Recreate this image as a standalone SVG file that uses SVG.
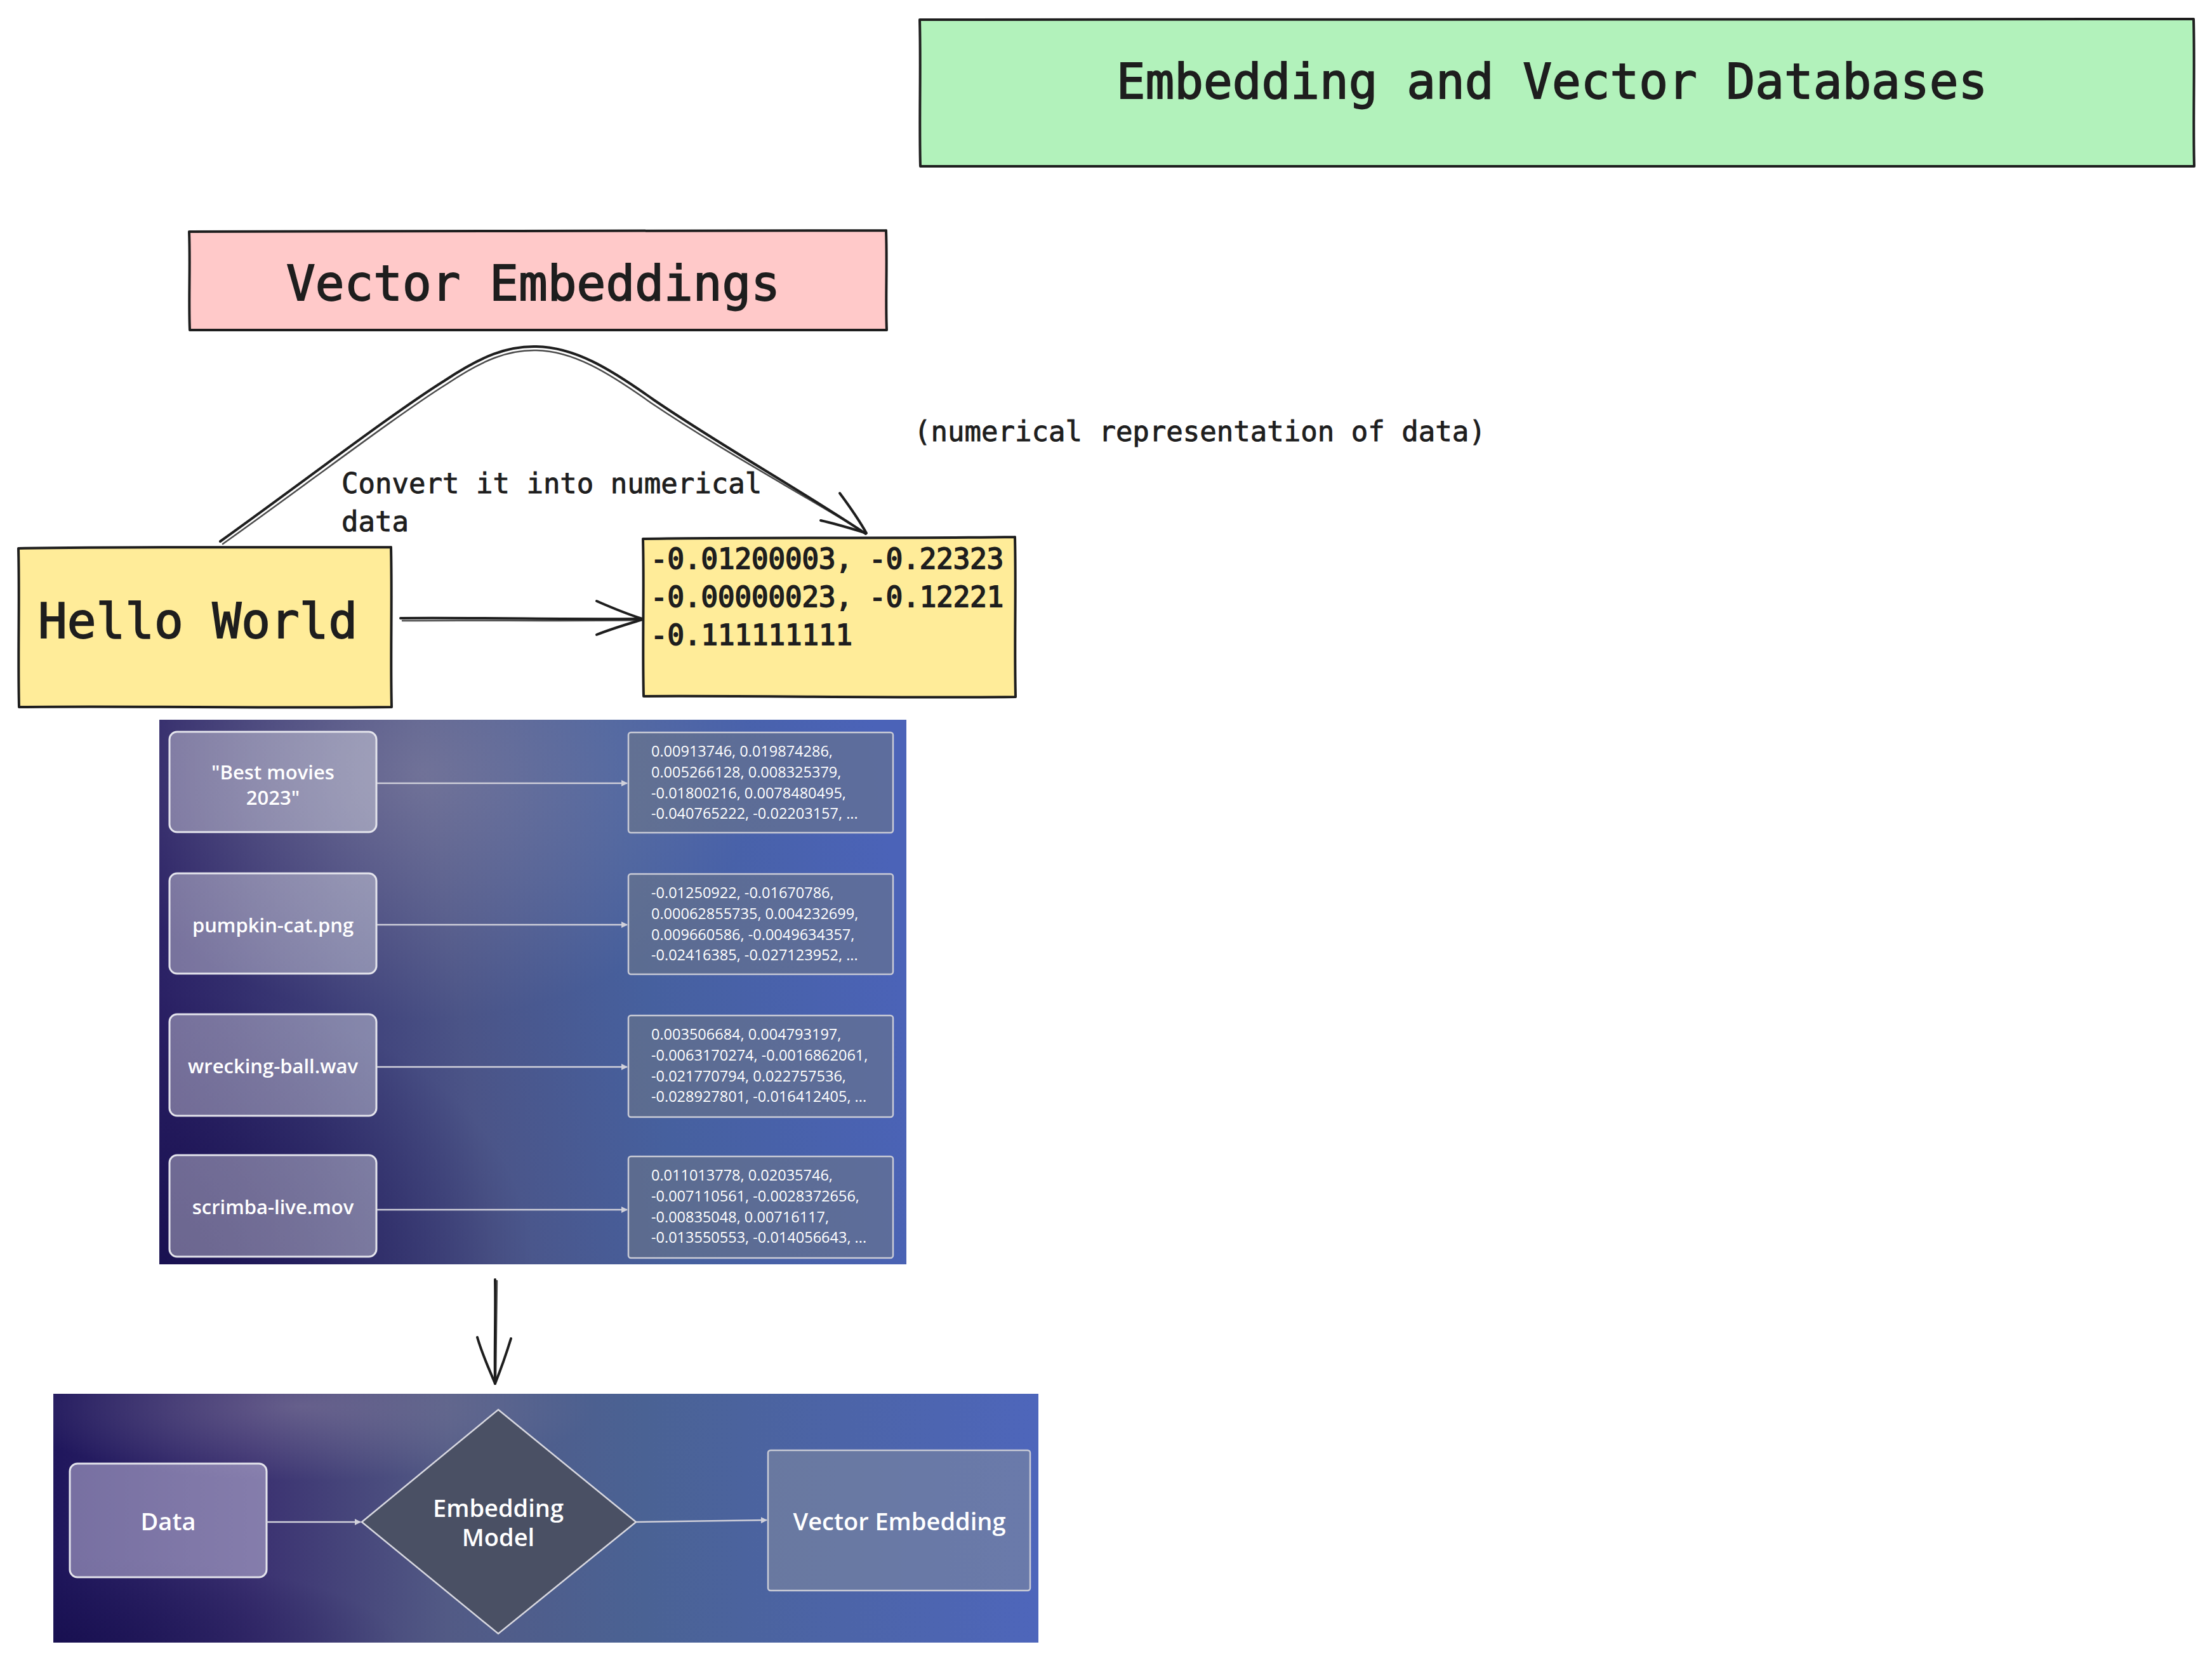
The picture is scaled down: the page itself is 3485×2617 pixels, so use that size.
<svg xmlns="http://www.w3.org/2000/svg" width="3485" height="2617" viewBox="0 0 3485 2617">
<style>
.hand{font-family:"DejaVu Sans Mono","Liberation Mono",monospace;fill:#1e1e1e;stroke:#1e1e1e}
.big{stroke-width:1.8}
.small{stroke-width:0.9}
.sk{fill:none;stroke:#1e1e1e;stroke-width:4;stroke-linecap:round;stroke-linejoin:round}
.sk2{fill:none;stroke:#1e1e1e;stroke-width:2.5;stroke-linecap:round;opacity:.8}
.ui{font-family:"Open Sans","Noto Sans",sans-serif;fill:#ffffff}
.lb{fill:rgba(255,255,255,0.36);stroke:#e4e4ec;stroke-width:3}
.rb{fill:rgba(110,118,135,0.55);stroke:#c9cbd6;stroke-width:2.5}
.cn{fill:none;stroke:#d0d0da;stroke-width:2.5}
</style>
<defs>
<linearGradient id="bg1" x1="0" y1="0.55" x2="1" y2="0.45">
<stop offset="0" stop-color="#2a2064"/>
<stop offset="0.4" stop-color="#4b5487"/>
<stop offset="0.65" stop-color="#46609e"/>
<stop offset="1" stop-color="#4b63b8"/>
</linearGradient>
<radialGradient id="glow1" cx="0.35" cy="0.1" r="0.45">
<stop offset="0" stop-color="#a49cb0" stop-opacity="0.42"/>
<stop offset="1" stop-color="#a49cb0" stop-opacity="0"/>
</radialGradient>
<radialGradient id="dark1" cx="0" cy="1" r="0.5">
<stop offset="0" stop-color="#150d4c" stop-opacity="0.8"/>
<stop offset="1" stop-color="#150d4c" stop-opacity="0"/>
</radialGradient>
<linearGradient id="bg2" x1="0" y1="0.5" x2="1" y2="0.5">
<stop offset="0" stop-color="#1f165c"/>
<stop offset="0.2" stop-color="#3a3070"/>
<stop offset="0.4" stop-color="#525a85"/>
<stop offset="0.6" stop-color="#4a6294"/>
<stop offset="1" stop-color="#4e66bb"/>
</linearGradient>
<radialGradient id="glow2" cx="0.25" cy="0.05" r="0.3">
<stop offset="0" stop-color="#a49cb0" stop-opacity="0.38"/>
<stop offset="1" stop-color="#a49cb0" stop-opacity="0"/>
</radialGradient>
<radialGradient id="dark2" cx="0" cy="1" r="0.35">
<stop offset="0" stop-color="#150d4c" stop-opacity="0.7"/>
<stop offset="1" stop-color="#150d4c" stop-opacity="0"/>
</radialGradient>
<marker id="ua" markerWidth="10" markerHeight="10" refX="9" refY="5" orient="auto" markerUnits="userSpaceOnUse">
<path d="M0,0 L10,5 L0,10 Z" fill="#d0d0da"/>
</marker>
</defs>
<rect width="3485" height="2617" fill="#ffffff"/>

<g id="title">
<rect x="1449" y="31" width="2007" height="231" fill="#b2f2bb"/>
<path class="sk" d="M1449,31 C2100,28 2800,33 3456,30 M3456,30 C3458,110 3455,190 3457,262 M3457,262 C2800,264 2100,260 1450,262 M1450,262 C1448,190 1451,110 1449,31"/>
<text class="hand big" x="2445" y="155" font-size="76" text-anchor="middle">Embedding and Vector Databases</text>
</g>

<g id="vector-embeddings">
<rect x="298" y="364" width="1098" height="156" fill="#ffc9c9"/>
<path class="sk" d="M298,365 C650,362 1050,366 1396,363 M1396,363 C1398,420 1395,470 1397,520 M1397,520 C1050,522 650,518 299,520 M299,520 C297,470 300,420 298,365"/>
<text class="hand big" x="840" y="473" font-size="76" text-anchor="middle">Vector Embeddings</text>
</g>

<g id="hello-world">
<rect x="29" y="862" width="587" height="252" fill="#ffec99"/>
<path class="sk" d="M29,864 C200,861 420,863 616,862 M616,862 C618,950 615,1030 617,1114 M617,1114 C420,1116 200,1112 30,1114 M30,1114 C28,1030 31,950 29,864"/>
<text class="hand big" x="60" y="1005" font-size="76">Hello World</text>
</g>

<g id="vector-values">
<rect x="1013" y="847" width="587" height="251" fill="#ffec99"/>
<path class="sk" d="M1013,849 C1200,846 1420,849 1599,846 M1599,846 C1601,930 1598,1010 1600,1098 M1600,1098 C1420,1100 1200,1096 1014,1097 M1014,1097 C1012,1010 1015,930 1013,849"/>
<text class="hand big" font-size="44"><tspan x="1025" y="896">-0.01200003, -0.22323</tspan><tspan x="1025" y="956">-0.00000023, -0.12221</tspan><tspan x="1025" y="1016">-0.111111111</tspan></text>
</g>

<g id="label-convert">
<text class="hand small" font-size="44"><tspan x="538" y="777">Convert it into numerical</tspan><tspan x="538" y="837">data</tspan></text>
</g>
<g id="label-numerical">
<text class="hand small" x="1440" y="695" font-size="44">(numerical representation of data)</text>
</g>

<g id="panel-1">
<rect x="251" y="1134" width="1177" height="858" fill="url(#bg1)"/>
<rect x="251" y="1134" width="1177" height="858" fill="url(#glow1)"/>
<rect x="251" y="1134" width="1177" height="858" fill="url(#dark1)"/>
<g id="input-1"><rect class="lb" x="267" y="1153" width="326" height="158" rx="12"/>
<text class="ui" x="430" y="1228" font-size="31" font-weight="600" text-anchor="middle">"Best movies</text>
<text class="ui" x="430" y="1268" font-size="31" font-weight="600" text-anchor="middle">2023"</text></g>
<g id="input-2"><rect class="lb" x="267" y="1376" width="326" height="158" rx="12"/>
<text class="ui" x="430" y="1469" font-size="31" font-weight="600" text-anchor="middle">pumpkin-cat.png</text></g>
<g id="input-3"><rect class="lb" x="267" y="1598" width="326" height="160" rx="12"/>
<text class="ui" x="430" y="1691" font-size="31" font-weight="600" text-anchor="middle">wrecking-ball.wav</text></g>
<g id="input-4"><rect class="lb" x="267" y="1820" width="326" height="160" rx="12"/>
<text class="ui" x="430" y="1913" font-size="31" font-weight="600" text-anchor="middle">scrimba-live.mov</text></g>

<g id="vec-1"><rect class="rb" x="990" y="1154" width="417" height="158" rx="4"/>
<text class="ui" font-size="23.5"><tspan x="1026" y="1192">0.00913746, 0.019874286,</tspan><tspan x="1026" y="1225">0.005266128, 0.008325379,</tspan><tspan x="1026" y="1258">-0.01800216, 0.0078480495,</tspan><tspan x="1026" y="1290">-0.040765222, -0.02203157, ...</tspan></text></g>
<g id="vec-2"><rect class="rb" x="990" y="1377" width="417" height="158" rx="4"/>
<text class="ui" font-size="23.5"><tspan x="1026" y="1415">-0.01250922, -0.01670786,</tspan><tspan x="1026" y="1448">0.00062855735, 0.004232699,</tspan><tspan x="1026" y="1481">0.009660586, -0.0049634357,</tspan><tspan x="1026" y="1513">-0.02416385, -0.027123952, ...</tspan></text></g>
<g id="vec-3"><rect class="rb" x="990" y="1600" width="417" height="160" rx="4"/>
<text class="ui" font-size="23.5"><tspan x="1026" y="1638">0.003506684, 0.004793197,</tspan><tspan x="1026" y="1671">-0.0063170274, -0.0016862061,</tspan><tspan x="1026" y="1704">-0.021770794, 0.022757536,</tspan><tspan x="1026" y="1736">-0.028927801, -0.016412405, ...</tspan></text></g>
<g id="vec-4"><rect class="rb" x="990" y="1822" width="417" height="160" rx="4"/>
<text class="ui" font-size="23.5"><tspan x="1026" y="1860">0.011013778, 0.02035746,</tspan><tspan x="1026" y="1893">-0.007110561, -0.0028372656,</tspan><tspan x="1026" y="1926">-0.00835048, 0.00716117,</tspan><tspan x="1026" y="1958">-0.013550553, -0.014056643, ...</tspan></text></g>
</g>

<g id="panel-2">
<rect x="84" y="2196" width="1552" height="392" fill="url(#bg2)"/>
<rect x="84" y="2196" width="1552" height="392" fill="url(#glow2)"/>
<rect x="84" y="2196" width="1552" height="392" fill="url(#dark2)"/>
<g id="data"><rect x="110" y="2306" width="310" height="179" rx="12" fill="rgba(205,200,230,0.5)" stroke="#e4e4ec" stroke-width="3"/>
<text class="ui" x="265" y="2411" font-size="38" font-weight="600" text-anchor="middle">Data</text></g>
<g id="embedding-model"><path d="M785,2221 L1002,2398 L785,2574 L570,2398 Z" fill="#4a5064" stroke="#d8d8e0" stroke-width="2.5"/>
<text class="ui" x="785" y="2390" font-size="38" font-weight="600" text-anchor="middle">Embedding</text>
<text class="ui" x="785" y="2436" font-size="38" font-weight="600" text-anchor="middle">Model</text></g>
<g id="vector-embedding"><rect x="1210" y="2285" width="413" height="221" rx="4" fill="rgba(125,135,160,0.6)" stroke="#c9cbd6" stroke-width="2.5"/>
<text class="ui" x="1417" y="2411" font-size="38" font-weight="600" text-anchor="middle">Vector Embedding</text></g>
</g>

<g id="connectors">
<path class="sk" d="M347,853 C470,765 620,650 700,600 C760,560 800,545 845,546 C905,547 960,580 1030,630 C1140,705 1250,765 1364,841"/>
<path class="sk2" d="M351,857 C474,770 624,655 704,605 C762,566 802,551 845,552 C902,553 956,585 1026,635 C1136,709 1246,768 1360,838"/>
<path class="sk" d="M1323,777 C1340,800 1355,822 1365,840 M1293,820 C1320,826 1345,834 1365,840"/>
<path class="sk" d="M631,974 C760,973 890,976 1011,975"/>
<path class="sk2" d="M634,978 C760,977 890,979 1008,977"/>
<path class="sk" d="M940,947 C965,958 990,968 1012,975 M940,1000 C965,990 990,983 1012,976"/>
<path class="sk" d="M780,2016 C781,2070 779,2130 780,2180"/>
<path class="sk2" d="M783,2018 C782,2070 782,2130 781,2176"/>
<path class="sk" d="M752,2107 C760,2135 772,2160 780,2180 M805,2109 C797,2135 788,2160 780,2180"/>
<path class="cn" marker-end="url(#ua)" d="M594,1234 L988,1234"/>
<path class="cn" marker-end="url(#ua)" d="M594,1457 L988,1457"/>
<path class="cn" marker-end="url(#ua)" d="M594,1681 L988,1681"/>
<path class="cn" marker-end="url(#ua)" d="M594,1906 L988,1906"/>
<path class="cn" marker-end="url(#ua)" d="M420,2398 L568,2398"/>
<path class="cn" marker-end="url(#ua)" d="M1002,2398 L1208,2395"/>
</g>
</svg>
